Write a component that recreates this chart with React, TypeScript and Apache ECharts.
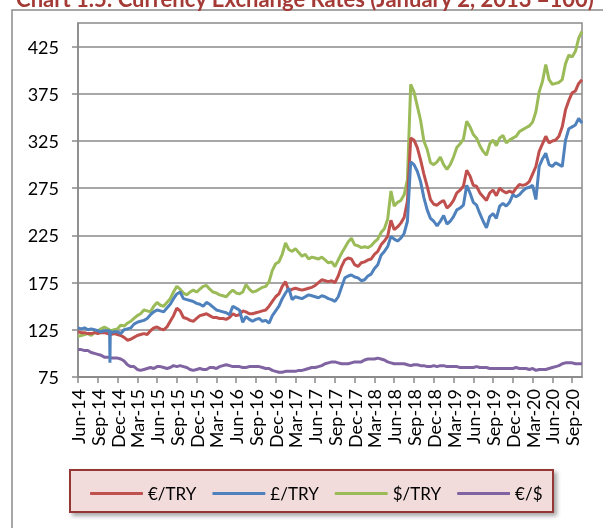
import React, { useEffect, useRef } from "react";
import * as echarts from "echarts";

// Quarterly tick labels on the x axis (months since Jun-2014: 0, 3, 6, ...)
const quarterLabels = [
  "Jun-14", "Sep-14", "Dec-14", "Mar-15", "Jun-15", "Sep-15", "Dec-15", "Mar-16",
  "Jun-16", "Sep-16", "Dec-16", "Mar-17", "Jun-17", "Sep-17", "Dec-17", "Mar-18",
  "Jun-18", "Sep-18", "Dec-18", "Mar-19", "Jun-19", "Sep-19", "Dec-19", "Mar-20",
  "Jun-20", "Sep-20",
];
const yTicks = [75, 125, 175, 225, 275, 325, 375, 425];

// Semi-monthly observations (1st and 16th of each month), Jun-2014 .. Oct-2020
const eurTry = [
  123,122, 122,121, 121,122, 121,122, 122,121, 120,121, 120,119, 117,114, 115,117, 119,120,
  121,120, 124,127, 128,126, 125,128, 134,140, 148,145, 138,137, 135,134, 137,140, 141,142,
  140,138, 138,137, 137,136, 138,142, 140,141, 145,144, 142,142, 143,144, 145,146, 150,155,
  160,163, 171,176, 166,168, 169,168, 167,168, 169,170, 172,175, 178,177, 176,177, 175,182,
  192,199, 201,200, 194,192, 196,197, 199,200, 205,208, 215,219, 224,241, 231,234, 238,244,
  261,328, 326,318, 305,290, 277,263, 258,257, 260,262, 254,257, 262,270, 273,277, 294,288,
  278,277, 270,266, 262,270, 273,267, 275,272, 270,272, 270,275, 279,278, 279,282, 290,298,
  314,322, 330,323, 325,326, 330,340, 358,368, 376,378, 386,390,
];
const gbpTry = [
  127,126, 127,125, 126,125, 124,123, 124,124, 122,123, 123,121, 125,126, 127,131, 133,134,
  135,137, 141,144, 146,145, 144,148, 152,158, 163,165, 158,157, 156,155, 153,152, 150,154,
  152,149, 146,145, 144,143, 141,150, 148,146, 133,139, 136,134, 136,137, 134,135, 132,140,
  145,150, 158,164, 169,157, 160,159, 158,160, 162,161, 160,159, 161,160, 158,157, 155,160,
  170,180, 182,183, 181,180, 177,178, 182,184, 190,194, 204,208, 213,224, 221,219, 222,227,
  240,303, 300,293, 282,265, 252,243, 240,235, 240,246, 237,240, 245,252, 254,257, 278,270,
  260,257, 248,240, 233,245, 248,243, 256,259, 256,260, 268,266, 268,272, 275,276, 278,263,
  298,306, 312,300, 298,302, 300,298, 326,338, 340,342, 349,344,
];
// One-day dip of the £/TRY series in late Oct-2014: [months since Jun-14, value]
const gbpSpike = [[4.8, 124], [4.85, 90], [4.9, 124]];
const usdTry = [
  118,119, 120,121, 119,122, 124,126, 128,126, 124,125, 126,130, 129,132, 134,137, 140,142,
  146,145, 144,150, 154,151, 150,154, 158,165, 171,168, 164,162, 165,167, 165,168, 171,172,
  168,165, 164,162, 161,160, 164,167, 164,163, 165,173, 168,165, 166,168, 170,171, 176,188,
  195,197, 205,217, 210,208, 211,207, 203,205, 200,202, 201,200, 202,199, 196,197, 192,199,
  206,212, 218,222, 215,214, 212,213, 212,214, 218,221, 228,232, 242,272, 256,260, 262,268,
  284,385, 377,362, 347,325, 316,302, 300,303, 308,300, 295,300, 308,318, 322,327, 346,340,
  332,328, 320,314, 310,322, 326,320, 328,331, 323,326, 328,330, 335,337, 339,341, 345,356,
  377,388, 406,390, 385,386, 387,390, 407,416, 414,420, 434,441,
];
const eurUsd = [
  104,104, 103,103, 101,100, 99,98, 96,96, 95,95, 95,94, 92,88, 86,86, 83,82,
  83,84, 85,84, 86,86, 85,84, 85,87, 86,87, 86,85, 83,82, 83,84, 83,83,
  85,85, 84,86, 87,88, 87,86, 86,86, 85,85, 86,86, 86,86, 85,84, 84,82,
  81,80, 80,81, 81,81, 81,82, 82,83, 84,85, 85,86, 87,89, 90,91, 91,90,
  89,89, 89,90, 91,91, 91,93, 94,94, 94,95, 94,93, 91,90, 89,89, 89,89,
  88,87, 88,88, 87,87, 86,86, 87,86, 87,87, 86,86, 86,86, 85,85, 85,85,
  85,86, 85,85, 85,84, 84,84, 84,84, 84,84, 84,85, 84,84, 84,83, 84,82,
  83,83, 83,84, 85,86, 87,89, 90,90, 90,89, 89,89,
];

const seriesNames = ["€/TRY", "£/TRY", "$/TRY", "€/$"];
const seriesColors = ["#C0504D", "#4F81BD", "#9BBB59", "#8064A2"];

const toPairs = (vals: number[]) => vals.map((v, i) => [i / 2, v]);

export default function App() {
  const ref = useRef<HTMLDivElement>(null);
  useEffect(() => {
    if (!ref.current) return;
    const chart = echarts.init(ref.current, null, { renderer: "svg" });
    const gbpData = toPairs(gbpTry).concat(gbpSpike).sort((a, b) => a[0] - b[0]);
    const datasets = [toPairs(eurTry), gbpData, toPairs(usdTry), toPairs(eurUsd)];
    const font = "Lato, 'Open Sans', sans-serif";
    const gridColor = "#8a8a8a";
    const xTicks = quarterLabels.map((_, i) => i * 3);
    chart.setOption({
      animation: false,
      textStyle: { fontFamily: font },
      grid: {
        left: 78, top: 23, right: 21, bottom: 151,
        show: true, borderColor: gridColor, borderWidth: 1.5,
      },
      graphic: [
        {
          type: "rect", silent: true, z: -10,
          shape: { x: 12, y: 10, width: 620, height: 560 },
          style: { fill: "none", stroke: "#8c8c8c", lineWidth: 1.5 },
        },
        {
          type: "text", silent: true,
          x: 305, y: -2,
          style: {
            text: "Chart 1.5: Currency Exchange Rates (January 2, 2013 =100)",
            fill: "#A33A36", font: "bold 22px Lato, sans-serif",
            align: "center", verticalAlign: "middle",
          },
        },
        {
          type: "rect", silent: true, z: 1,
          shape: { x: 70, y: 470, width: 483, height: 42 },
          style: {
            fill: "#F2DCDB", stroke: "#953735", lineWidth: 2,
            shadowBlur: 4, shadowOffsetX: 3, shadowOffsetY: 3, shadowColor: "rgba(0,0,0,0.35)",
          },
        },
      ],
      legend: {
        data: seriesNames,
        left: 85, top: 480,
        icon: "roundRect", itemWidth: 53, itemHeight: 3, itemGap: 16,
        textStyle: { fontSize: 17, color: "#000", fontFamily: font },
        z: 10,
      },
      xAxis: {
        type: "value", min: 0, max: 76.5, interval: 3,
        axisLine: { show: true, lineStyle: { color: gridColor, width: 1.5 } },
        axisTick: { show: true, customValues: xTicks, length: 6, lineStyle: { color: gridColor, width: 1.5 } },
        axisLabel: {
          customValues: xTicks,
          formatter: (v: number) => quarterLabels[Math.round(v / 3)] ?? "",
          rotate: 90, margin: 12, fontSize: 18, color: "#000", fontFamily: font,
        },
        splitLine: { show: false },
      },
      yAxis: {
        type: "value", min: 75, max: 450, interval: 50,
        axisLine: { show: true, lineStyle: { color: gridColor, width: 1.5 } },
        axisTick: { show: true, customValues: yTicks, length: 6, lineStyle: { color: gridColor, width: 1.5 } },
        axisLabel: { customValues: yTicks, margin: 19, fontSize: 18, color: "#000", fontFamily: font },
        splitLine: { show: true, lineStyle: { color: gridColor, width: 1.5 } },
      },
      series: seriesNames.map((name, i) => ({
        name, type: "line", data: datasets[i], symbol: "none",
        lineStyle: { color: seriesColors[i], width: 3 },
        itemStyle: { color: seriesColors[i] },
        z: i === 2 ? 3 : i === 0 ? 4 : i === 1 ? 5 : 2,
      })),
    });
    return () => chart.dispose();
  }, []);
  return (
    <div
      ref={ref}
      style={{ position: "fixed", left: 0, top: 0, width: 603, height: 528 }}
    />
  );
}
